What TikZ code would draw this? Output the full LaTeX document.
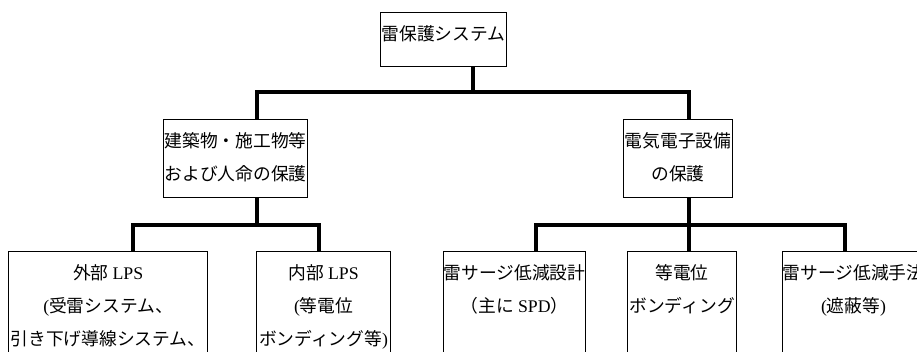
\documentclass[tikz,border=0pt]{standalone}
\usepackage{fontspec}
\setmainfont{Noto Sans CJK JP}
\newfontfamily\lat{Liberation Serif}
\newcommand{\boxtext}[3]{\parbox[t][#2][t]{#1}{\centering\rule{0pt}{27.5pt}#3}}
\begin{document}
\begin{tikzpicture}[x=1pt, y=-1pt, font=\fontsize{17.75}{33}\selectfont,
	box/.style={draw, line width=1.2pt, inner sep=0pt, anchor=north west},
	conn/.style={line width=3.8pt}]
	\def\hlow{130pt} % untere Kaesten laufen aus dem Bild
	\useasboundingbox (0,0) rectangle (917,351);
	\fill[white] (0,0) rectangle (917,351);
	\clip (0,0) rectangle (917,351);
	% Kaesten
	\node[box] (top) at (380,12) {\boxtext{126pt}{54pt}{雷保護システム}};
	\node[box] (bldg) at (163,119) {\boxtext{144pt}{78pt}{建築物・施工物等\\および人命の保護}};
	\node[box] (elec) at (623,119) {\boxtext{109pt}{78pt}{電気電子設備\\の保護}};
	\node[box] (ext) at (8,251) {\boxtext{199pt}{\hlow}{外部 {\lat LPS}\\{\lat (}受雷システム、\\引き下げ導線システム、}};
	\node[box] (int) at (256,251) {\boxtext{134pt}{\hlow}{内部 {\lat LPS}\\{\lat (}等電位\\ボンディング等{\lat )}}};
	\node[box] (spd) at (443,251) {\boxtext{142pt}{\hlow}{雷サージ低減設計\\（主に {\lat SPD}）}};
	\node[box] (bond) at (627,251) {\boxtext{109pt}{\hlow}{等電位\\ボンディング}};
	\node[box] (shld) at (782,251) {\boxtext{142pt}{\hlow}{雷サージ低減手法\\{\lat (}遮蔽等{\lat )}}};
	% Verbindungen
	\coordinate (j0) at (473,92);
	\coordinate (j1) at (257,92);
	\coordinate (j2) at (689,92);
	\coordinate (j3) at (257,225);
	\coordinate (j4) at (133,225);
	\coordinate (j5) at (319,225);
	\coordinate (j6) at (689,225);
	\coordinate (j7) at (536,225);
	\coordinate (j8) at (845,225);
	\draw[conn] (top.south -| j0) -- (j0);
	\draw[conn] (bldg.north -| j1) -- (j1) -- (j2) -- (elec.north -| j2);
	\draw[conn] (bldg.south -| j3) -- (j3);
	\draw[conn] (ext.north -| j4) -- (j4) -- (j5) -- (int.north -| j5);
	\draw[conn] (elec.south -| j6) -- (bond.north -| j6);
	\draw[conn] (spd.north -| j7) -- (j7) -- (j8) -- (shld.north -| j8);
\end{tikzpicture}
\end{document}
